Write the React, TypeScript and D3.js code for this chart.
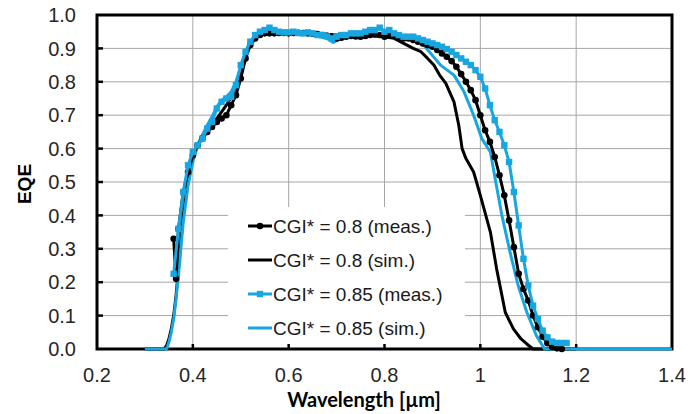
import React from 'react';
import * as d3 from 'd3';

// ---------- data ----------
const xTicks = [0.2, 0.4, 0.6, 0.8, 1.0, 1.2, 1.4];
const xTickLabels = ['0.2', '0.4', '0.6', '0.8', '1', '1.2', '1.4'];
const yTicks = [0, 0.1, 0.2, 0.3, 0.4, 0.5, 0.6, 0.7, 0.8, 0.9, 1.0];
const yTickLabels = ['0.0', '0.1', '0.2', '0.3', '0.4', '0.5', '0.6', '0.7', '0.8', '0.9', '1.0'];
const seriesNames = ['CGI* = 0.8 (meas.)', 'CGI* = 0.8 (sim.)', 'CGI* = 0.85 (meas.)', 'CGI* = 0.85 (sim.)'];
const xTitle = 'Wavelength [µm]';
const yTitle = 'EQE';

// CGI* = 0.8 measured
const wlMeas08 = [0.36, 0.365, 0.37, 0.38, 0.39, 0.40, 0.41, 0.42, 0.43, 0.44, 0.45, 0.46, 0.47, 0.48, 0.49,
  0.50, 0.51, 0.52, 0.53, 0.54, 0.55, 0.56, 0.57, 0.58, 0.59, 0.60, 0.61, 0.62, 0.63, 0.64, 0.65, 0.66, 0.67,
  0.68, 0.69, 0.70, 0.71, 0.72, 0.73, 0.74, 0.75, 0.76, 0.77, 0.78, 0.79, 0.80, 0.81, 0.82, 0.83, 0.84, 0.85,
  0.86, 0.87, 0.88, 0.89, 0.90, 0.91, 0.92, 0.93, 0.94, 0.95, 0.96, 0.97, 0.98, 0.99, 1.00, 1.01, 1.02, 1.03,
  1.04, 1.05, 1.06, 1.07, 1.08, 1.09, 1.10, 1.11, 1.12, 1.13, 1.14, 1.15, 1.16, 1.17];
const eqeMeas08 = [0.33, 0.21, 0.36, 0.47, 0.53, 0.58, 0.61, 0.63, 0.65, 0.665, 0.68, 0.69, 0.70, 0.73, 0.76,
  0.81, 0.87, 0.91, 0.93, 0.94, 0.945, 0.945, 0.945, 0.946, 0.946, 0.945, 0.946, 0.947, 0.946, 0.945, 0.944, 0.943, 0.94,
  0.938, 0.935, 0.93, 0.932, 0.935, 0.937, 0.936, 0.935, 0.937, 0.94, 0.942, 0.94, 0.935, 0.938, 0.94, 0.935, 0.93, 0.93,
  0.925, 0.92, 0.915, 0.91, 0.905, 0.895, 0.885, 0.875, 0.862, 0.845, 0.823, 0.80, 0.775, 0.745, 0.70, 0.655, 0.62, 0.575,
  0.52, 0.46, 0.385, 0.305, 0.225, 0.18, 0.145, 0.10, 0.065, 0.037, 0.017, 0.006, 0.002, 0.0];

// CGI* = 0.8 simulated
const wlSim08 = [0.30, 0.34, 0.345, 0.35, 0.355, 0.36, 0.365, 0.37, 0.375, 0.38, 0.39, 0.40, 0.41, 0.42, 0.43,
  0.44, 0.45, 0.46, 0.47, 0.48, 0.49, 0.50, 0.51, 0.52, 0.53, 0.54, 0.56, 0.60, 0.65, 0.70, 0.75, 0.80, 0.82,
  0.84, 0.86, 0.876, 0.89, 0.903, 0.915, 0.928, 0.945, 0.955, 0.962, 0.97, 0.986, 1.0, 1.021, 1.034, 1.052,
  1.069, 1.085, 1.097, 1.11, 1.2];
const eqeSim08 = [0, 0, 0.01, 0.03, 0.06, 0.10, 0.16, 0.24, 0.32, 0.40, 0.50, 0.57, 0.61, 0.64, 0.66,
  0.675, 0.69, 0.71, 0.73, 0.755, 0.785, 0.83, 0.88, 0.91, 0.93, 0.94, 0.945, 0.946, 0.945, 0.94, 0.94, 0.935, 0.93,
  0.915, 0.90, 0.89, 0.87, 0.85, 0.82, 0.795, 0.74, 0.67, 0.60, 0.57, 0.53, 0.46, 0.35, 0.24, 0.11,
  0.06, 0.03, 0.015, 0.0, 0.0];

// CGI* = 0.85 measured
const wlMeas085 = [0.36, 0.37, 0.38, 0.39, 0.40, 0.41, 0.42, 0.43, 0.44, 0.45, 0.46, 0.47, 0.48, 0.49,
  0.50, 0.51, 0.52, 0.53, 0.54, 0.55, 0.56, 0.57, 0.58, 0.59, 0.60, 0.61, 0.62, 0.63, 0.64, 0.65, 0.66, 0.67,
  0.68, 0.69, 0.70, 0.71, 0.72, 0.73, 0.74, 0.75, 0.76, 0.77, 0.78, 0.79, 0.80, 0.81, 0.82, 0.83, 0.84, 0.85,
  0.86, 0.87, 0.88, 0.89, 0.90, 0.91, 0.92, 0.93, 0.94, 0.95, 0.96, 0.97, 0.98, 0.99, 1.00, 1.01, 1.02, 1.03,
  1.04, 1.05, 1.06, 1.07, 1.08, 1.09, 1.10, 1.11, 1.12, 1.13, 1.14, 1.15, 1.16, 1.17, 1.18];
const eqeMeas085 = [0.225, 0.36, 0.47, 0.55, 0.59, 0.61, 0.63, 0.66, 0.68, 0.72, 0.74, 0.75, 0.755, 0.79,
  0.85, 0.89, 0.92, 0.94, 0.95, 0.955, 0.962, 0.955, 0.95, 0.948, 0.948, 0.95, 0.946, 0.945, 0.948, 0.945, 0.94, 0.94,
  0.936, 0.93, 0.935, 0.94, 0.94, 0.945, 0.945, 0.945, 0.95, 0.955, 0.955, 0.962, 0.95, 0.955, 0.945, 0.94, 0.935, 0.935,
  0.935, 0.93, 0.925, 0.92, 0.915, 0.91, 0.905, 0.898, 0.89, 0.88, 0.87, 0.86, 0.85, 0.835, 0.815, 0.78, 0.73, 0.685,
  0.65, 0.61, 0.56, 0.47, 0.37, 0.27, 0.19, 0.13, 0.09, 0.055, 0.035, 0.022, 0.018, 0.018, 0.018];

// CGI* = 0.85 simulated
const wlSim085 = [0.30, 0.345, 0.35, 0.355, 0.36, 0.365, 0.37, 0.375, 0.38, 0.39, 0.40, 0.41, 0.42, 0.43,
  0.44, 0.45, 0.46, 0.47, 0.48, 0.49, 0.50, 0.51, 0.52, 0.53, 0.55, 0.60, 0.65, 0.68, 0.693, 0.71, 0.75, 0.80,
  0.84, 0.876, 0.917, 0.945, 0.966, 0.986, 1.003, 1.021, 1.031, 1.045, 1.062, 1.079, 1.097, 1.117, 1.134, 1.4];
const eqeSim085 = [0, 0, 0.02, 0.05, 0.09, 0.15, 0.22, 0.30, 0.38, 0.49, 0.56, 0.61, 0.64, 0.67,
  0.695, 0.725, 0.745, 0.755, 0.77, 0.80, 0.845, 0.89, 0.92, 0.935, 0.945, 0.945, 0.94, 0.93, 0.918, 0.93, 0.94, 0.94,
  0.935, 0.92, 0.85, 0.82, 0.77, 0.70, 0.63, 0.59, 0.51, 0.40, 0.29, 0.19, 0.11, 0.04, 0.0, 0.0];

const BLUE = '#18a6e0';
const BLACK = '#000000';

type Pt = [number, number];
const pair = (a: number[], b: number[]): Pt[] => a.slice(0, Math.min(a.length, b.length)).map((v, i) => [v, b[i]]);

export default function App() {
  const W = 688, H = 414;
  const x = d3.scaleLinear().domain([0.2, 1.4]).range([97, 672]);
  const y = d3.scaleLinear().domain([0, 1]).range([349, 15]);
  const line = d3.line<Pt>().x(d => x(d[0])).y(d => y(d[1]));

  const series = [
    { name: seriesNames[0], data: pair(wlMeas08, eqeMeas08), color: BLACK, marker: 'circle' },
    { name: seriesNames[1], data: pair(wlSim08, eqeSim08), color: BLACK, marker: 'none' },
    { name: seriesNames[2], data: pair(wlMeas085, eqeMeas085), color: BLUE, marker: 'square' },
    { name: seriesNames[3], data: pair(wlSim085, eqeSim085), color: BLUE, marker: 'none' },
  ];
  const drawOrder = [1, 3, 0, 2];

  const [x0, x1] = x.range();
  const [y0, y1] = y.range();

  const legend = { x: 228, y: 207, w: 237, h: 140 };
  const legendRows = [226, 260, 294, 328];

  const marker = (kind: string, cx: number, cy: number, color: string, key: any) =>
    kind === 'circle' ? <circle key={key} cx={cx} cy={cy} r={3.3} fill={color} /> :
    kind === 'square' ? <rect key={key} x={cx - 3.2} y={cy - 3.2} width={6.4} height={6.4} fill={color} /> : null;

  return (
    <svg width={W} height={H} style={{ position: 'absolute', left: 0, top: 0, background: '#fff' }}
      fontFamily="'Liberation Sans', Arial, sans-serif">
      <rect x={0} y={0} width={W} height={H} fill="#fff" />
      {/* gridlines */}
      {yTicks.slice(1, -1).map((t, i) => (
        <line key={'gy' + i} x1={x0} x2={x1} y1={y(t)} y2={y(t)} stroke="#a6a6a6" strokeWidth={1} />
      ))}
      {xTicks.slice(1, -1).map((t, i) => (
        <line key={'gx' + i} x1={x(t)} x2={x(t)} y1={y1} y2={y0} stroke="#a6a6a6" strokeWidth={1} />
      ))}
      {/* legend background */}
      <rect x={legend.x} y={legend.y} width={legend.w} height={legend.h} fill="#fff" />
      {/* frame */}
      <rect x={x0} y={y1} width={x1 - x0} height={y0 - y1} fill="none" stroke="#000" strokeWidth={3} />
      {/* ticks */}
      {yTicks.slice(1, -1).map((t, i) => (
        <line key={'ty' + i} x1={x0} x2={x0 + 6} y1={y(t)} y2={y(t)} stroke="#000" strokeWidth={2.5} />
      ))}
      {xTicks.slice(1, -1).map((t, i) => (
        <line key={'tx' + i} x1={x(t)} x2={x(t)} y1={y0} y2={y0 - 5} stroke="#000" strokeWidth={2.5} />
      ))}
      {/* tick labels */}
      {yTicks.map((t, i) => (
        <text key={'ly' + i} x={76} y={y(t)} dy="0.36em" textAnchor="end" fontSize={20} fill="#262626">{yTickLabels[i]}</text>
      ))}
      {xTicks.map((t, i) => (
        <text key={'lx' + i} x={x(t)} y={382} textAnchor="middle" fontSize={20} fill="#262626">{xTickLabels[i]}</text>
      ))}
      {/* axis titles */}
      <text x={364} y={407} textAnchor="middle" fontSize={20} fontWeight="bold" fontFamily="Lato, 'Open Sans', sans-serif" fill="#000">{xTitle}</text>
      <text transform={`translate(31,184) rotate(-90)`} textAnchor="middle" fontSize={19} fontWeight="bold" fill="#000">{yTitle}</text>
      {/* series */}
      {drawOrder.map(si => {
        const s = series[si];
        return (
          <g key={'s' + si}>
            <path d={line(s.data) || ''} fill="none" stroke={s.color} strokeWidth={3} strokeLinejoin="round" />
            {s.marker !== 'none' && s.data.map((d, j) => marker(s.marker, x(d[0]), y(d[1]), s.color, j))}
          </g>
        );
      })}
      {/* legend */}
      {series.map((s, i) => (
        <g key={'lg' + i}>
          <line x1={248} x2={272} y1={legendRows[i]} y2={legendRows[i]} stroke={s.color} strokeWidth={3} />
          {marker(s.marker, 260, legendRows[i], s.color, 'm')}
          <text x={273} y={legendRows[i]} dy="0.36em" fontSize={19} fill="#1a1a1a">{s.name}</text>
        </g>
      ))}
    </svg>
  );
}
